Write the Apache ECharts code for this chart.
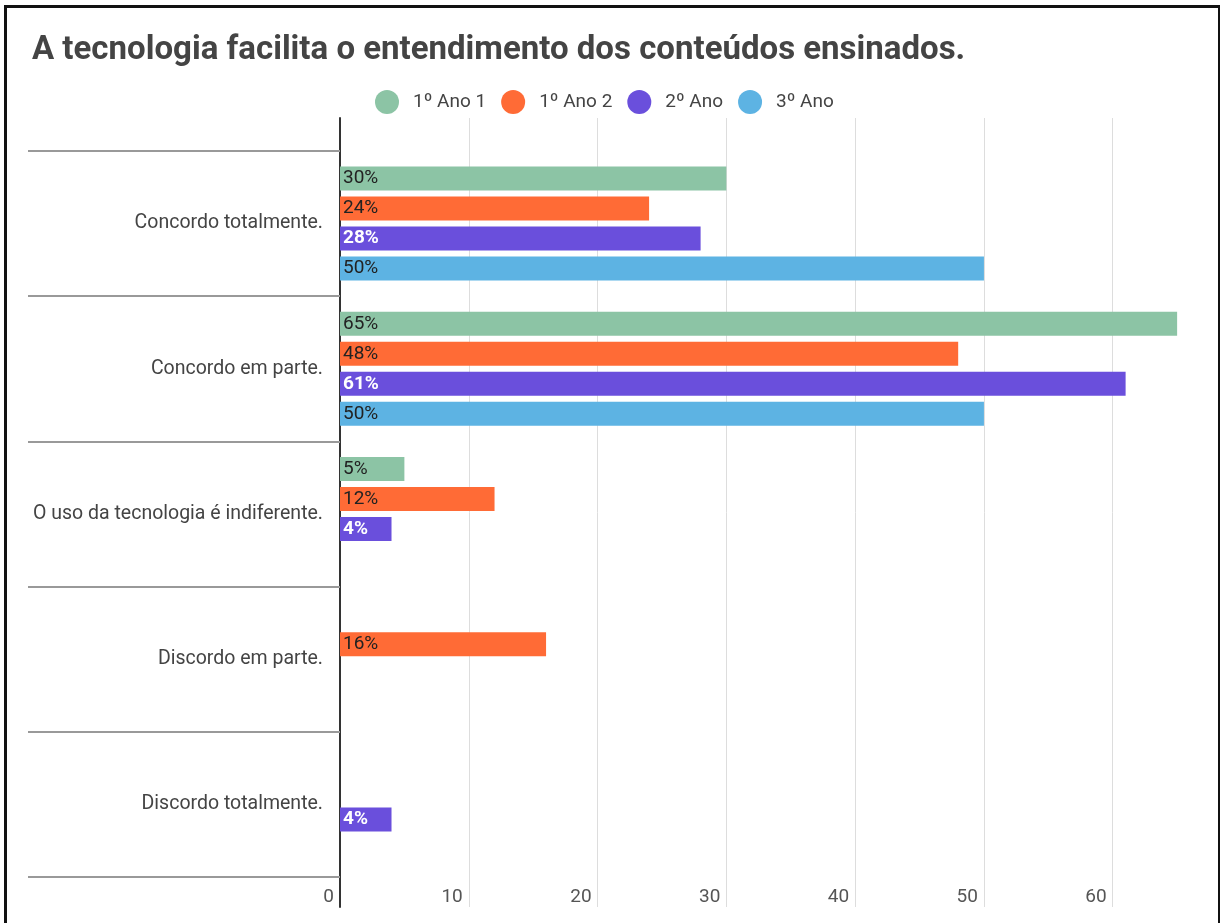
<!DOCTYPE html>
<html>
<head>
<meta charset="utf-8">
<script src="https://cdn.jsdelivr.net/npm/echarts@6/dist/echarts.min.js"></script>
<style>
  html, body { margin: 0; padding: 0; background: #fff; }
  #chart { position: absolute; left: 0; top: 0; width: 1220px; height: 923px; }
  #frame { position: absolute; left: 4px; top: 5px; width: 1211px; height: 940px;
           border: 3px solid #111; pointer-events: none; }
</style>
</head>
<body>
<div id="chart"></div>
<div id="frame"></div>
<script>
// categorias (eixo vertical)
var categorias = [
  'Concordo totalmente.',
  'Concordo em parte.',
  'O uso da tecnologia é indiferente.',
  'Discordo em parte.',
  'Discordo totalmente.'
];
// series, valores em %
var turmas = ['1º Ano 1', '1º Ano 2', '2º Ano', '3º Ano'];
var ano1_1 = [30, 65, 5, 0, 0];
var ano1_2 = [24, 48, 12, 16, 0];
var ano2 = [28, 61, 4, 0, 4];
var ano3 = [50, 50, 0, 0, 0];
var cores = ['#8cc4a5', '#ff6b36', '#6a4fdc', '#5db3e3'];
var ticksX = [0, 10, 20, 30, 40, 50, 60];

var chart = echarts.init(document.getElementById('chart'));

function serie(i, dados) {
  var roxo = i === 2;
  return {
    name: turmas[i],
    type: 'bar',
    xAxisIndex: 1,
    yAxisIndex: 1,
    data: dados,
    barWidth: 24,
    barGap: '25%',
    itemStyle: { color: cores[i] },
    label: {
      show: true,
      position: 'insideLeft',
      distance: 3,
      fontFamily: 'Roboto',
      fontSize: 19,
      color: roxo ? '#ffffff' : '#222222',
      fontWeight: roxo ? 'bold' : 'normal',
      formatter: function (p) { return p.value ? p.value + '%' : ''; }
    }
  };
}

var option = {
  backgroundColor: '#ffffff',
  animation: false,
  title: {
    text: 'A tecnologia facilita o entendimento dos conteúdos ensinados.',
    left: 32,
    top: 34,
    padding: 0,
    textStyle: { fontFamily: 'Roboto', fontSize: 33, fontWeight: 'bold', color: '#444444' }
  },
  legend: {
    data: turmas,
    left: 375,
    top: 90,
    padding: 0,
    icon: 'circle',
    itemWidth: 24,
    itemHeight: 24,
    itemGap: 15,
    textStyle: { fontFamily: 'Roboto', fontSize: 19, color: '#444444', padding: [0, 0, 0, 9] }
  },
  grid: [
    { left: 340, top: 118, width: 850, height: 789 },
    { left: 340, top: 151, width: 850, height: 726 }
  ],
  xAxis: [
    {
      type: 'value', gridIndex: 0, min: 0, max: 66, interval: 10,
      axisLine: { show: false },
      axisTick: { show: false },
      splitLine: { showMaxLine: false, lineStyle: { color: '#dddddd', width: 1 } },
      axisLabel: {
        inside: true,
        margin: 0,
        align: 'right',
        padding: [0, 6, 0, 0],
        fontFamily: 'Roboto',
        fontSize: 19,
        color: '#555555',
        formatter: function (v) { return ticksX.indexOf(v) >= 0 ? String(v) : ''; }
      }
    },
    {
      type: 'value', gridIndex: 1, min: 0, max: 66, interval: 10, show: false
    }
  ],
  yAxis: [
    {
      type: 'category', gridIndex: 0, data: [''],
      axisLine: { show: true, lineStyle: { color: '#333333', width: 2 } },
      axisTick: { show: false },
      axisLabel: { show: false },
      splitLine: { show: false }
    },
    {
      type: 'category', gridIndex: 1, data: categorias, inverse: true,
      axisLine: { show: false },
      axisTick: { show: true, length: 312, lineStyle: { color: '#999999', width: 2 } },
      axisLabel: {
        margin: 17,
        fontFamily: 'Roboto',
        fontSize: 19.5,
        color: '#444444'
      },
      splitLine: { show: false }
    }
  ],
  series: [
    serie(0, ano1_1),
    serie(1, ano1_2),
    serie(2, ano2),
    serie(3, ano3)
  ]
};

chart.setOption(option);
</script>
</body>
</html>
